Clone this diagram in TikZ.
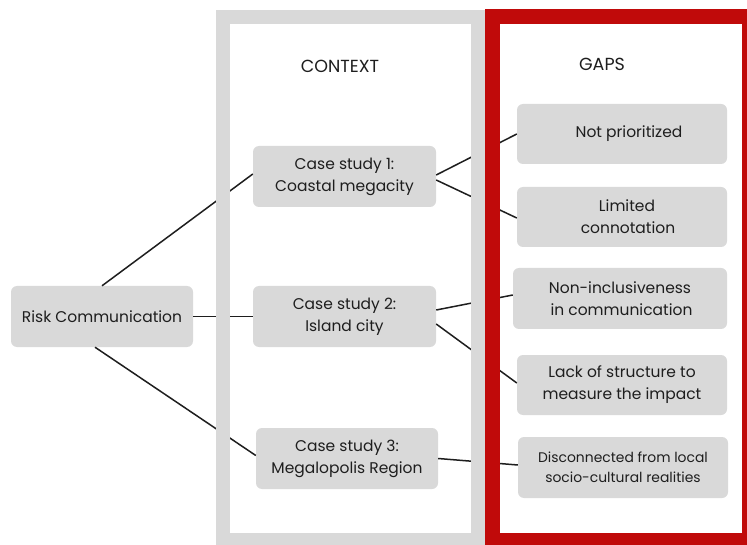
\documentclass[tikz,border=0pt]{standalone}
\usepackage{fontspec}
\setmainfont{Poppins}
\definecolor{boxgrey}{HTML}{D9D9D9}
\definecolor{framegrey}{HTML}{D9D9D9}
\definecolor{gapred}{HTML}{C00A0A}
\definecolor{ink}{HTML}{1E1E1E}
\begin{document}
\begin{tikzpicture}[x=1pt,y=-1pt,
  box/.style={fill=boxgrey, rounded corners=6pt, align=center, text=ink,
    font=\fontsize{15.5}{22}\selectfont, inner sep=0pt},
  link/.style={draw=ink, line width=1.5pt},
  title/.style={text=ink, font=\fontsize{17.5}{20}\selectfont}]
\useasboundingbox (0,0) rectangle (747,545);
\fill[white] (0,0) rectangle (747,545);
% nodes
\node[box, minimum width=182pt, minimum height=61pt] (risk) at (102,316.5) {Risk Communication};
\node[box, minimum width=183pt, minimum height=61pt] (cs1) at (344.5,176.5) {Case study 1:\\Coastal megacity};
\node[box, minimum width=183pt, minimum height=61pt] (cs2) at (344.5,316.5) {Case study 2:\\Island city};
\node[box, minimum width=182pt, minimum height=61pt] (cs3) at (347,458.5) {Case study 3:\\Megalopolis Region};
\node[box, minimum width=210pt, minimum height=60pt] (g1) at (622,134) {\hspace*{14pt}Not prioritized};
\node[box, minimum width=210pt, minimum height=60pt] (g2) at (622,217) {\hspace*{10pt}Limited\\\hspace*{12pt}connotation};
\node[box, minimum width=214pt, minimum height=61pt] (g3) at (620,298.5) {Non-inclusiveness\\\hspace*{3pt}in communication};
\node[box, minimum width=210pt, minimum height=60pt] (g4) at (622,385) {Lack of structure to\\measure the impact};
\node[box, minimum width=210pt, minimum height=61pt, font=\fontsize{13.9}{20}\selectfont] (g5) at (623,467.5) {Disconnected from local\\socio-cultural realities};
% connectors
\draw[link] (risk.north) -- ([yshift=2.5pt]cs1.west);
\draw[link] (risk.east) -- (cs2.west);
\draw[link] ([xshift=-7pt]risk.south) -- ([yshift=3pt]cs3.west);
\draw[link] ([yshift=1.5pt]cs1.east) -- (g1.west);
\draw[link] ([yshift=-3.5pt]cs1.east) -- ([yshift=-1pt]g2.west);
\draw[link] ([yshift=6.5pt]cs2.east) -- ([yshift=3.5pt]g3.west);
\draw[link] ([yshift=-7.5pt]cs2.east) -- ([yshift=2pt]g4.west);
\draw[link] (cs3.east) -- ([yshift=2.5pt]g5.west);
% frames (over the connectors)
\begin{scope}
\clip (0,0) rectangle (747,545);
\draw[framegrey, line width=14pt] (223,17) rectangle (478,540);
\draw[gapred, line width=15pt] (492.5,16.5) rectangle (749.5,540.5);
\end{scope}
% titles
\node[title] (context) at (340,66) {CONTEXT};
\node[title] (gaps) at (602,64) {GAPS};
\end{tikzpicture}
\end{document}
